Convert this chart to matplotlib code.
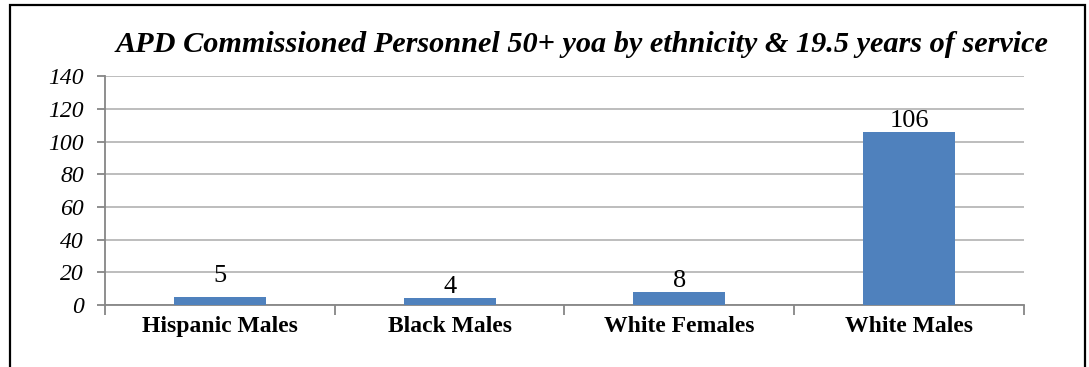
import matplotlib
matplotlib.use("Agg")
import matplotlib.pyplot as plt
from matplotlib.patches import Rectangle

categories = ["Hispanic Males", "Black Males", "White Females", "White Males"]
counts = [5, 4, 8, 106]
yticks = [0, 20, 40, 60, 80, 100, 120, 140]
title = "APD Commissioned Personnel 50+ yoa by ethnicity & 19.5 years of service"

serif = ["Liberation Serif", "DejaVu Serif"]
fig = plt.figure(figsize=(10.89, 3.67), dpi=100)
ax = fig.add_axes([0.0964, 0.169, 0.8439, 0.623])

# outer chart frame (bottom edge runs off the canvas)
fig.patches.append(Rectangle((10 / 1089, -0.1), 1075 / 1089, 1.1 - 5 / 367,
                             transform=fig.transFigure, fill=False,
                             edgecolor="black", linewidth=1.6))

x = list(range(len(categories)))
bars = ax.bar(x, counts, width=0.4, color="#4F81BD", zorder=3)
# the first label sits a little higher than the rest
label_raise = {0: 7}
for xi, v in zip(x, counts):
    ax.annotate(str(v), (xi, v), xytext=(0, label_raise.get(xi, 0)),
                textcoords="offset points", ha="center", va="bottom",
                fontsize=19, family=serif, zorder=4)

ax.set_xlim(-0.5, len(categories) - 0.5)
ax.set_ylim(0, 140)
ax.set_yticks(yticks)
ax.set_yticklabels([str(t) for t in yticks], fontsize=17, family=serif,
                   style="italic")
ax.set_xticks([i - 0.5 for i in range(len(categories) + 1)])
ax.set_xticklabels([])
ax.set_xticks(x, minor=True)
ax.set_xticklabels(categories, minor=True, fontsize=17, family=serif,
                   weight="bold")
ax.tick_params(axis="x", which="minor", length=0, pad=8)
ax.tick_params(axis="x", which="major", length=7, color="#868686", width=1.3)
ax.tick_params(axis="y", length=6, color="#868686", width=1.3, pad=9)

ax.grid(axis="y", color="#b8b8b8", linewidth=1.3, zorder=0)
for s in ["top", "right"]:
    ax.spines[s].set_visible(False)
for s in ["left", "bottom"]:
    ax.spines[s].set_color("#868686")
    ax.spines[s].set_linewidth(1.3)

fig.text(0.534, 0.878, title, ha="center", va="center", fontsize=21.8,
         family=serif, weight="bold", style="italic")

fig.savefig("out.png", dpi=100)
